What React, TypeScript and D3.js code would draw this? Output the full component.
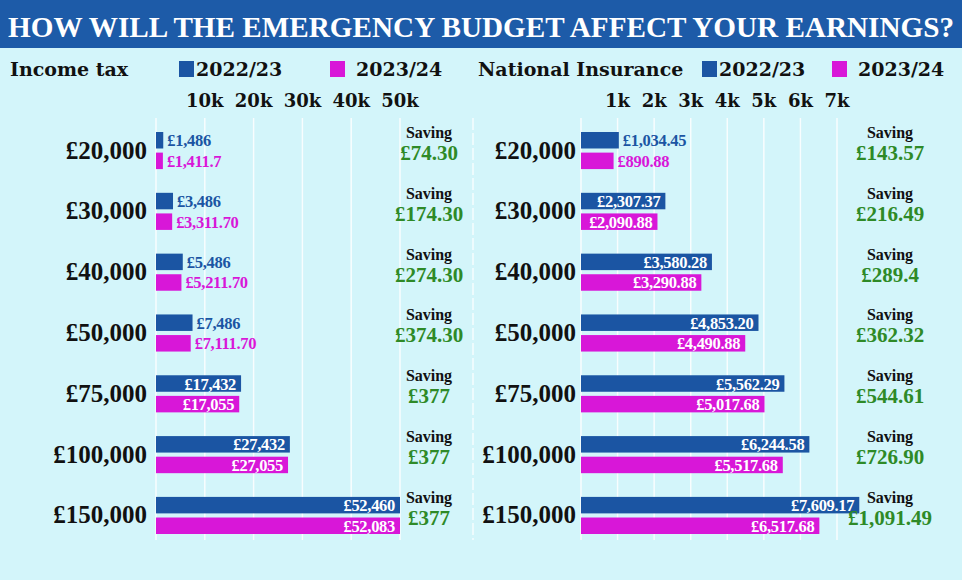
import React, { useEffect, useRef } from 'react';
import * as d3 from 'd3';

// income bands (rows)
const incomes = ['£20,000', '£30,000', '£40,000', '£50,000', '£75,000', '£100,000', '£150,000'];
const years = ['2022/23', '2023/24'];

// income tax
const taxOld = [1486, 3486, 5486, 7486, 17432, 27432, 52460];
const taxNew = [1411.7, 3311.7, 5211.7, 7111.7, 17055, 27055, 52083];
const taxOldLabels = ['£1,486', '£3,486', '£5,486', '£7,486', '£17,432', '£27,432', '£52,460'];
const taxNewLabels = ['£1,411.7', '£3,311.70', '£5,211.70', '£7,111.70', '£17,055', '£27,055', '£52,083'];
const taxSavings = ['£74.30', '£174.30', '£274.30', '£374.30', '£377', '£377', '£377'];
const taxTicks = [10000, 20000, 30000, 40000, 50000];

// national insurance
const niOld = [1034.45, 2307.37, 3580.28, 4853.2, 5562.29, 6244.58, 7609.17];
const niNew = [890.88, 2090.88, 3290.88, 4490.88, 5017.68, 5517.68, 6517.68];
const niSavings = ['£143.57', '£216.49', '£289.4', '£362.32', '£544.61', '£726.90', '£1,091.49'];
const niTicks = [1000, 2000, 3000, 4000, 5000, 6000, 7000];

const W = 962;
const H = 580;
const BG = '#d3f5fa';
const BLUE = '#1b55a3';
const PINK = '#d817d8';
const GREEN = '#2e8a27';
const SERIF = '"Liberation Serif", serif';
const DSERIF = '"DejaVu Serif", serif';

const App = () => {
    const svgRef = useRef(null);

    useEffect(() => {
        const svg = d3.select(svgRef.current);
        svg.selectAll('*').remove();

        svg.append('rect').attr('width', W).attr('height', H).attr('fill', BG);

        // title bar
        svg.append('rect').attr('width', W).attr('height', 48).attr('fill', '#1d5ba8');
        svg.append('text')
            .attr('x', 8).attr('y', 37)
            .attr('textLength', 946).attr('lengthAdjust', 'spacingAndGlyphs')
            .attr('fill', '#fff')
            .style('font', `bold 29px ${SERIF}`)
            .text('HOW WILL THE EMERGENCY BUDGET AFFECT YOUR EARNINGS?');

        // rows
        const y = d3.scaleBand().domain(incomes).range([132, 534]).paddingInner(0.39).paddingOuter(0);
        const ySub = d3.scaleBand().domain(years).range([0, y.bandwidth()]).paddingInner(0.2);

        const drawPanel = (opts) => {
            const { title, titleX, legendX, x, ticks, tickFmt, oldVals, newVals, oldLabels, newLabels, savings, labelX, savingX, sepX } = opts;
            const g = svg.append('g');

            // legend
            g.append('text').attr('x', titleX).attr('y', 76)
                .style('font', `bold 19px ${DSERIF}`).attr('fill', '#111').text(title);
            [BLUE, PINK].forEach((c, i) => {
                g.append('rect').attr('x', legendX[i]).attr('y', 61).attr('width', 15).attr('height', 16).attr('fill', c);
                g.append('text').attr('x', legendX[i] + (i === 0 ? 17 : 26)).attr('y', 76)
                    .style('font', `bold 19px ${DSERIF}`).attr('fill', '#111').text(years[i]);
            });

            // tick labels
            g.selectAll('.tick-label').data(ticks).join('text')
                .attr('x', d => x(d)).attr('y', 107)
                .attr('text-anchor', 'middle')
                .style('font', `bold 18px ${DSERIF}`).attr('fill', '#111')
                .text(tickFmt);

            // grid lines
            g.selectAll('.grid').data([0, ...ticks]).join('line')
                .attr('x1', d => x(d)).attr('x2', d => x(d))
                .attr('y1', 118).attr('y2', 540)
                .attr('stroke', '#fff').attr('stroke-width', 1.5).attr('opacity', 0.85);
            if (sepX) {
                g.append('line').attr('x1', sepX).attr('x2', sepX).attr('y1', 118).attr('y2', 540)
                    .attr('stroke', '#fff').attr('stroke-width', 1.5).attr('stroke-dasharray', '12,3').attr('opacity', 0.8);
            }

            // category labels
            g.selectAll('.cat').data(incomes).join('text')
                .attr('x', labelX).attr('y', d => y(d) + y.bandwidth() / 2 + 8)
                .attr('text-anchor', 'end')
                .style('font', `bold 25px ${SERIF}`).attr('fill', '#111')
                .text(d => d);

            // bars
            incomes.forEach((inc, i) => {
                const rows = [
                    { key: years[0], v: oldVals[i], label: oldLabels[i], color: BLUE },
                    { key: years[1], v: newVals[i], label: newLabels[i], color: PINK },
                ];
                rows.forEach(r => {
                    const x0 = x(0);
                    const x1 = x(r.v);
                    const by = y(inc) + ySub(r.key);
                    g.append('rect')
                        .attr('x', x0).attr('y', by)
                        .attr('width', x1 - x0).attr('height', ySub.bandwidth())
                        .attr('fill', r.color);
                    const inside = x1 - x0 > 60;
                    g.append('text')
                        .attr('x', inside ? x1 - 5 : x1 + 4)
                        .attr('y', by + ySub.bandwidth() / 2 + 6)
                        .attr('text-anchor', inside ? 'end' : 'start')
                        .style('font', `bold 16.5px ${SERIF}`)
                        .attr('letter-spacing', '-0.3')
                        .attr('fill', inside ? '#fff' : r.color)
                        .text(r.label);
                });

                // saving
                const top = y(inc);
                g.append('text').attr('x', savingX).attr('y', top + 6)
                    .attr('text-anchor', 'middle')
                    .style('font', `bold 16px ${SERIF}`).attr('fill', '#111').text('Saving');
                g.append('text').attr('x', savingX).attr('y', top + 28)
                    .attr('text-anchor', 'middle')
                    .style('font', `bold 21px ${SERIF}`).attr('fill', GREEN).text(savings[i]);
            });
        };

        const xTax = d3.scaleLinear().domain([0, 50000]).range([156, 400]).clamp(true);
        const xNi = d3.scaleLinear().domain([0, 7000]).range([581, 837]);

        drawPanel({
            title: 'Income tax', titleX: 10, legendX: [179, 330],
            x: xTax, ticks: taxTicks, tickFmt: d => `${d / 1000}k`,
            oldVals: taxOld, newVals: taxNew, oldLabels: taxOldLabels, newLabels: taxNewLabels,
            savings: taxSavings, labelX: 147, savingX: 429, sepX: 473,
        });

        const niFmt = d3.format(',.2f');
        drawPanel({
            title: 'National Insurance', titleX: 478, legendX: [702, 832],
            x: xNi, ticks: niTicks, tickFmt: d => `${d / 1000}k`,
            oldVals: niOld, newVals: niNew,
            oldLabels: niOld.map(v => `£${niFmt(v)}`), newLabels: niNew.map(v => `£${niFmt(v)}`),
            savings: niSavings, labelX: 576, savingX: 890, sepX: null,
        });
    }, []);

    return (
        <svg ref={svgRef} width={W} height={H} style={{ position: 'absolute', left: 0, top: 0 }} />
    );
};

export default App;
